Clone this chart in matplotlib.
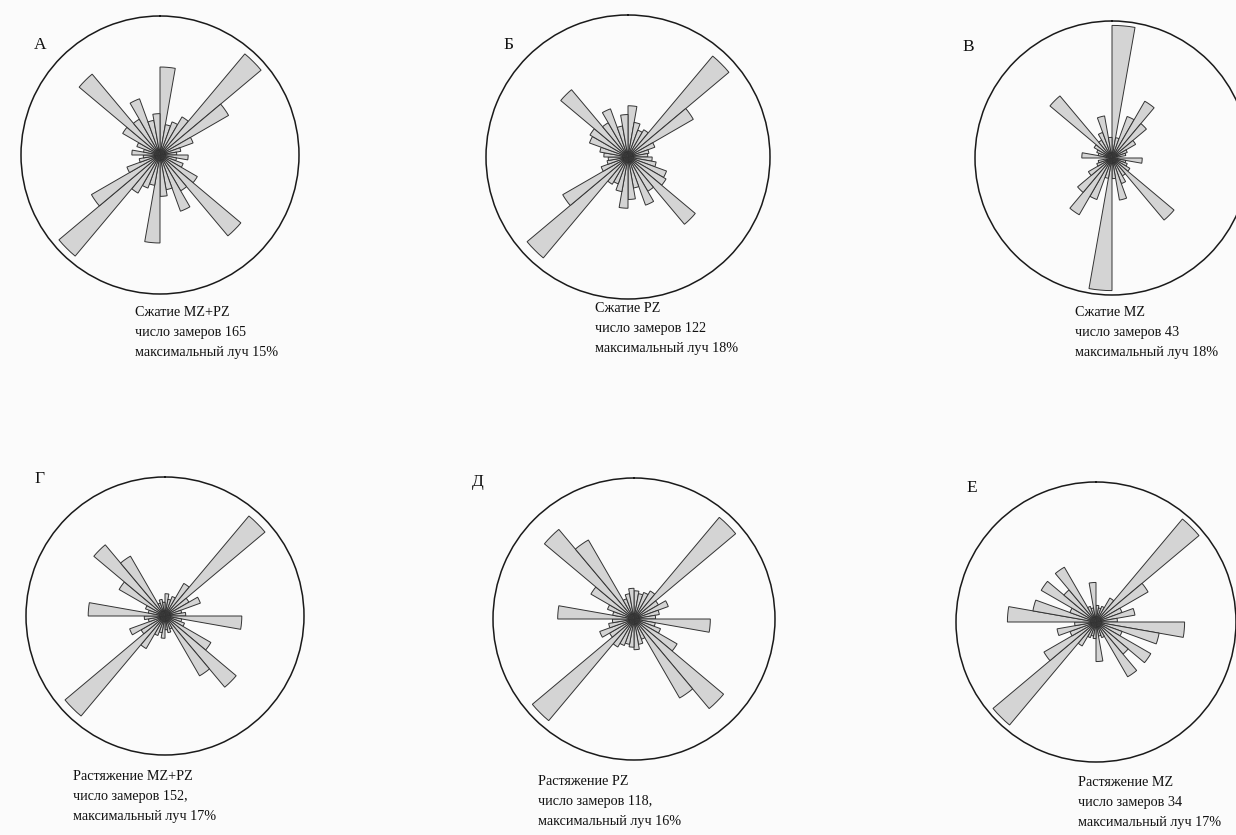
import numpy as np
import matplotlib
matplotlib.use("Agg")
import matplotlib.pyplot as plt

W, H = 1236, 835
plt.rcParams["font.family"] = ["Liberation Serif", "DejaVu Serif"]

# секторы по 10 градусов, 0-180 (вторая половина розы симметрична)
bins = np.arange(0, 180, 10)

# частота, %
comp_mz_pz = [10, 3.5, 4, 5, 15, 9, 4, 2.4, 1.9, 3.2, 1.9, 2.8, 4.9, 12, 4.7, 6.8, 4, 4.7]
comp_pz = [7, 4.8, 3.9, 4.3, 18, 10.3, 3.9, 2.9, 2.7, 3.3, 3.9, 5.6, 6, 12, 5.4, 7, 4.3, 5.8]
comp_mz = [18, 2.8, 6, 8.9, 6.1, 3.7, 2.2, 1.9, 0, 4.1, 1.9, 2.2, 2.8, 11, 2.8, 3.7, 5.8, 2.8]
ext_mz_pz = [2.9, 2.2, 2.7, 4.9, 17, 3.6, 4.9, 2.2, 2.7, 10, 2.2, 2.7, 6.9, 12.1, 9, 1.8, 2.2, 1.8]
ext_pz = [3.4, 3.1, 3.4, 3.9, 16, 3.4, 4.4, 3.1, 2.6, 9.2, 2.6, 3.4, 6, 14.1, 11, 2.6, 3.1, 3.7]
ext_mz = [2.1, 1.8, 2.1, 3.5, 17, 7.6, 3.5, 5, 2.7, 11.2, 8.1, 3.5, 8, 5.3, 8, 2.1, 1.8, 5]

letters = ["А", "Б", "В", "Г", "Д", "Е"]
captions = [
    "Сжатие MZ+PZ\nчисло замеров 165\nмаксимальный луч 15%",
    "Сжатие PZ\nчисло замеров 122\nмаксимальный луч 18%",
    "Сжатие MZ\nчисло замеров 43\nмаксимальный луч 18%",
    "Растяжение MZ+PZ\nчисло замеров 152,\nмаксимальный луч 17%",
    "Растяжение PZ\nчисло замеров 118,\nмаксимальный луч 16%",
    "Растяжение MZ\nчисло замеров 34\nмаксимальный луч 17%",
]
series = [comp_mz_pz, comp_pz, comp_mz, ext_mz_pz, ext_pz, ext_mz]

# layout in pixels: circle centre, radius, scale of the circle (%), letter and caption anchors
centres = [(160, 155), (628, 157), (1112, 158), (165, 616), (634, 619), (1096, 622)]
radii = [139, 142, 137, 139, 141, 140]
rmax = [15.8, 19.4, 18.6, 18.1, 17.0, 17.7]
letter_xy = [(40, 45), (508, 45), (968, 47), (40, 479), (478, 482), (972, 488)]
caption_xy = [(135, 306), (595, 302), (1075, 306), (73, 770), (538, 775), (1078, 776)]

fig = plt.figure(figsize=(W / 100, H / 100), dpi=100)
fig.patch.set_facecolor("#fbfbfb")

for i, vals in enumerate(series):
    cx, cy = centres[i]
    r = radii[i]
    ax = fig.add_axes([(cx - r) / W, 1 - (cy + r) / H, 2 * r / W, 2 * r / H],
                      projection="polar")
    ax.set_theta_zero_location("N")
    ax.set_theta_direction(-1)
    theta = np.deg2rad(np.concatenate([bins, bins + 180]) + 5)
    v = np.concatenate([vals, vals])
    ax.bar(theta, v, width=np.deg2rad(10), bottom=0, color="#d4d4d4",
           edgecolor="#333333", linewidth=0.7, align="center")
    ax.set_ylim(0, rmax[i])
    ax.grid(False)
    ax.set_xticks([])
    ax.set_yticks([])
    ax.set_facecolor("none")
    ax.spines["polar"].set_linewidth(1.1)
    ax.spines["polar"].set_color("#1a1a1a")

    lx, ly = letter_xy[i]
    fig.text(lx / W, 1 - ly / H, letters[i], fontsize=12.5, ha="center", va="center",
             color="#111111")
    tx, ty = caption_xy[i]
    fig.text(tx / W, 1 - ty / H, captions[i], fontsize=10.2, ha="left", va="top",
             color="#111111", linespacing=1.7)

fig.savefig("out.png", dpi=100, facecolor=fig.get_facecolor())
